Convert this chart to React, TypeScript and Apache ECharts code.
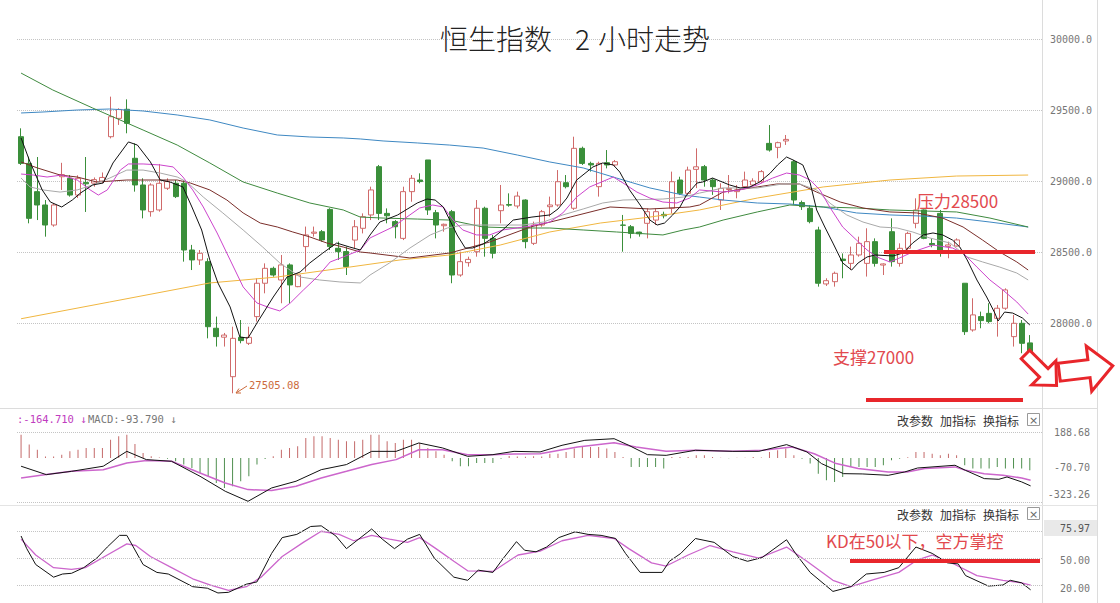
import React, { useEffect, useRef } from "react";
import * as echarts from "echarts";

// [open, close, low, high]
const candles: number[][] = [
  [29312, 29124, 29113, 29371], [29124, 28737, 28702, 29171], [28925, 28831, 28725, 29169], [28831, 28690, 28608, 28866],
  [28690, 28831, 28678, 28843], [29030, 29045, 28937, 29128], [29019, 28901, 28890, 29042], [28901, 29019, 28880, 29040],
  [28990, 28980, 28782, 29169], [28985, 29010, 28960, 29025], [29000, 29025, 28985, 29060], [29312, 29453, 29300, 29594],
  [29441, 29504, 29395, 29512], [29505, 29406, 29336, 29575], [29160, 28972, 28925, 29265], [28972, 28796, 28737, 29019],
  [28784, 28972, 28749, 28984], [28796, 28984, 28784, 29120], [28949, 28996, 28937, 29019], [28984, 28890, 28880, 29007],
  [28984, 28514, 28432, 29007], [28514, 28444, 28373, 28550], [28444, 28491, 28409, 28514], [28432, 27974, 27892, 28456],
  [27963, 27904, 27834, 28045], [27900, 27915, 27834, 27930], [27622, 27892, 27505.08, 27974], [27899, 27876, 27857, 28021],
  [27857, 27899, 27845, 27974], [28045, 28280, 28010, 28315], [28280, 28385, 28209, 28420], [28385, 28338, 28326, 28397],
  [28303, 28409, 28139, 28479], [28409, 28268, 28139, 28420], [28256, 28338, 28252, 28350], [28538, 28620, 28362, 28679],
  [28632, 28640, 28608, 28679], [28643, 28585, 28573, 28655], [28800, 28538, 28514, 28808], [28526, 28503, 28444, 28573],
  [28503, 28397, 28338, 28538], [28584, 28678, 28526, 28725], [28667, 28749, 28631, 28772], [28761, 28937, 28725, 28960],
  [29101, 28772, 28725, 29113], [28772, 28755, 28702, 28807], [28714, 28678, 28596, 28725], [28596, 28925, 28584, 28960],
  [28925, 29019, 28854, 29042], [29007, 28996, 28984, 29054], [29148, 28796, 28761, 29148], [28777, 28690, 28596, 28796],
  [28685, 28695, 28643, 28700], [28784, 28338, 28280, 28796], [28338, 28432, 28326, 28502], [28425, 28448, 28397, 28467],
  [28502, 28808, 28467, 28866], [28808, 28596, 28467, 28819], [28596, 28491, 28455, 28620], [28791, 28831, 28702, 28972],
  [28834, 28830, 28819, 28913], [28824, 28894, 28807, 28925], [28866, 28573, 28526, 28871], [28561, 28690, 28549, 28714],
  [28690, 28784, 28678, 28796], [28819, 28831, 28749, 28890], [28831, 28995, 28819, 29077], [28988, 28960, 28948, 29042],
  [28808, 29230, 28796, 29312], [29230, 29124, 29113, 29242], [29124, 29113, 29066, 29136], [28960, 29124, 28890, 29136],
  [29129, 29113, 29089, 29218], [29113, 29136, 29101, 29148], [28690, 28688, 28502, 28761], [28678, 28631, 28596, 28690],
  [28640, 28628, 28608, 28643], [28702, 28784, 28596, 28807], [28725, 28784, 28690, 28807], [28765, 28755, 28737, 28784],
  [28808, 28995, 28772, 29066], [29007, 28913, 28901, 29030], [28913, 29077, 28901, 29101], [29082, 29100, 28950, 29230],
  [29101, 29007, 28960, 29113], [29007, 28960, 28902, 29019], [28866, 28948, 28796, 28984], [28940, 28948, 28913, 29042],
  [28925, 28937, 28878, 28972], [28960, 29007, 28948, 29066], [28972, 29000, 28965, 29019], [28995, 29066, 28984, 29077],
  [29265, 29218, 29207, 29394], [29237, 29270, 29160, 29277], [29282, 29293, 29254, 29324], [29136, 28866, 28831, 29148],
  [28848, 28819, 28796, 28862], [28808, 28714, 28702, 28831], [28655, 28280, 28256, 28678], [28275, 28298, 28261, 28315],
  [28291, 28350, 28256, 28362], [28450, 28440, 28315, 28490], [28420, 28479, 28373, 28538], [28479, 28561, 28467, 28608],
  [28420, 28573, 28327, 28667], [28573, 28420, 28397, 28596], [28408, 28416, 28338, 28420], [28643, 28432, 28397, 28737],
  [28420, 28526, 28397, 28561], [28526, 28631, 28514, 28643], [28702, 28796, 28667, 28878], [28796, 28596, 28590, 28800],
  [28560, 28550, 28533, 28596], [28772, 28514, 28467, 28796], [28540, 28550, 28456, 28573], [28542, 28585, 28538, 28596],
  [28280, 27939, 27916, 28280], [27951, 28057, 27939, 28174], [28045, 28017, 27963, 28080], [28068, 28010, 27998, 28139],
  [28033, 28104, 27904, 28127], [28104, 28233, 28092, 28244], [27904, 27998, 27834, 28057], [27998, 27857, 27787, 28021],
  [27860, 27730, 27700, 27915],
];

// moving averages, [candle index, price]
const ma5 = [[0,29303],[1.1,29134],[2.6,28937],[3.6,28852],[5,28817],[6.3,28866],[7.3,28915],[8.8,28972],[10.1,28986],[11.3,29127],[13.2,29275],[14.3,29253],[15.9,29134],[17.1,29007],[18.3,28993],[19.9,28958],[21,28817],[22.2,28655],[23.2,28444],[24.2,28282],[25.7,28113],[26.9,27901],[27.9,27894],[29,28000],[31,28183],[32.7,28324],[34.3,28359],[35.5,28423],[37.1,28493],[38.8,28563],[40.4,28535],[41.7,28514],[42.9,28620],[44.1,28711],[46.3,28761],[48.7,28845],[49.9,28873],[50.9,28866],[51.9,28817],[52.7,28725],[53.6,28620],[54.6,28528],[55.5,28528],[56.8,28556],[58,28599],[59.2,28655],[60.5,28725],[62.8,28746],[65,28761],[66,28803],[67.1,28880],[68.3,29007],[70.3,29099],[71.5,29127],[72.8,29113],[73.6,29063],[74.8,28937],[76.1,28831],[77.3,28725],[78.2,28690],[79.1,28704],[80.1,28761],[81,28817],[81.8,28901],[83.1,28986],[83.8,28993],[85,29021],[87.1,28972],[88.4,28951],[89.6,28958],[90.8,28993],[92.1,29056],[93,29113],[94.1,29169],[94.9,29148],[96.1,29113],[97,28986],[97.8,28796],[98.8,28676],[99.8,28563],[101,28423],[102.1,28373],[102.9,28423],[104,28465],[105,28479],[107.2,28472],[108.4,28493],[109.6,28563],[110.9,28620],[112.1,28634],[113.3,28620],[114.5,28584],[115.4,28535],[116.3,28444],[117.5,28303],[118.7,28183],[119.7,28070],[120.1,28014],[120.9,28077],[121.9,28070],[123.1,28035],[124,27986]];
const ma10 = [[0,29049],[1.5,29042],[3.2,29028],[5,29042],[6.9,29007],[8.5,28937],[9.5,28901],[10.6,28937],[12.2,29077],[13.2,29120],[15,29120],[17.1,29113],[18.7,29099],[19.9,29028],[21.1,28937],[22.4,28817],[24.1,28634],[25.7,28444],[27.3,28254],[29,28141],[30.6,28106],[31.8,28085],[33.1,28141],[34.7,28232],[36.4,28324],[38,28430],[39.6,28465],[41.7,28514],[42.9,28599],[45.7,28676],[49,28810],[50.6,28831],[51.9,28817],[53.1,28725],[54.3,28655],[56,28620],[57.6,28620],[59.2,28655],[62.6,28683],[65,28711],[66.6,28775],[68.3,28887],[69.9,28958],[72.8,29028],[74,28986],[75.7,28922],[77.3,28880],[78.9,28852],[80.6,28845],[82.2,28880],[83.4,28937],[86.3,28922],[88.4,28937],[90.5,28972],[92.4,29021],[94.1,29056],[95.7,29042],[97,29007],[98.2,28937],[99.4,28817],[101,28676],[102.7,28584],[104,28514],[105.2,28465],[106.8,28430],[108,28458],[109.6,28500],[112.1,28549],[114.5,28528],[115.8,28493],[117.5,28394],[119.1,28303],[120.7,28232],[122.4,28148],[123.8,28063]];
const ma20 = [[0,29021],[1.1,28958],[2.7,28937],[4.8,28922],[6.9,28937],[8.8,28972],[10.9,29021],[13,29077],[15,29077],[17.1,29056],[19.2,29028],[20.4,28993],[22.4,28887],[24.8,28775],[27.3,28655],[29.7,28535],[31.8,28423],[34.3,28324],[36.7,28303],[39.2,28289],[41.7,28282],[42.9,28338],[45.3,28423],[47.8,28528],[50.3,28620],[52.4,28669],[54.3,28690],[58.9,28690],[61.7,28690],[64.2,28711],[66.6,28761],[69.1,28803],[71.5,28845],[74,28866],[78.9,28873],[81.4,28887],[83.4,28915],[86.3,28951],[90.5,28951],[93.6,28979],[95.7,28979],[97.8,28937],[99.4,28845],[101.5,28761],[103.5,28711],[105.6,28676],[107.7,28669],[109.6,28641],[111.7,28599],[114.2,28563],[116.3,28465],[118.2,28430],[120.3,28394],[122.4,28352],[123.8,28303]];
const ma30 = [[0,29134],[2,29092],[4.8,29042],[6.9,29028],[9.3,28993],[13,29007],[19.2,29007],[20.8,28986],[23.2,28937],[25.3,28866],[27.3,28775],[29.4,28704],[31.5,28676],[33.4,28641],[35.5,28606],[37.6,28563],[39.6,28535],[41.7,28500],[42.9,28493],[47.8,28458],[52.7,28493],[57.6,28570],[62.6,28676],[67.5,28746],[72.4,28817],[77.3,28803],[82.2,28817],[83.4,28831],[86.3,28922],[90.5,28958],[92.9,28979],[95.7,28979],[97.8,28922],[100.7,28852],[103.5,28810],[106.8,28782],[110.1,28775],[113.3,28739],[115.8,28676],[118.2,28584],[120.3,28500],[122.4,28430],[123.8,28373]];
const ma60 = [[0,29760],[3.9,29641],[8.8,29514],[15,29359],[19.2,29253],[23.2,29127],[27.3,28993],[31.5,28915],[35.5,28845],[39.6,28796],[41.7,28746],[44.5,28739],[48.7,28732],[52.7,28725],[56.8,28676],[61,28669],[65,28669],[69.1,28655],[73.2,28641],[78.9,28620],[81.4,28655],[83.4,28676],[86.3,28725],[90.5,28782],[94.5,28831],[98.6,28817],[102.7,28810],[106.8,28796],[110.9,28789],[115,28782],[119.1,28739],[123.8,28676]];
const ma120 = [[0,29479],[2.7,29486],[6.9,29500],[10.9,29507],[15,29493],[19.2,29465],[23.2,29430],[27.3,29373],[31.5,29324],[35.5,29310],[39.6,29303],[41.7,29296],[44.5,29282],[48.7,29268],[52.7,29253],[56.8,29232],[61,29183],[65,29134],[69.1,29092],[73.2,29021],[77.3,28951],[81.4,28901],[83.4,28887],[86.3,28866],[90.5,28845],[94.5,28838],[98.6,28817],[102.7,28775],[106.8,28761],[110.9,28753],[115,28739],[119.1,28711],[123.8,28676]];
const ma250 = [[0,28030],[10.9,28148],[23.2,28282],[31.5,28324],[40.4,28394],[46.6,28444],[52.7,28479],[58.9,28549],[65,28641],[71.2,28704],[77.3,28746],[83.4,28796],[90.5,28880],[98.6,28958],[106.8,29007],[115,29035],[123.8,29042]];

// MACD histogram, one per candle
const macdHist = [169,97,60,10,10,24,48,60,73,73,73,133,157,169,102,36,12,4,-5,-24,-48,-73,-109,-133,-182,-218,-206,-169,-133,-48,-7,12,60,73,85,145,157,157,145,133,121,121,133,169,169,121,109,133,133,109,73,48,24,-24,-60,-60,-36,-36,-36,-6,15,10,8,12,10,31,31,44,68,80,80,80,68,44,7,-65,-65,-65,-65,-77,7,7,7,19,19,7,2,-2,2,2,7,4,44,56,68,19,-5,-41,-114,-162,-174,-138,-65,-65,-65,-65,-53,-17,-5,5,44,44,31,19,31,19,-53,-77,-77,-77,-65,-77,-77,-77,-90];
const dif = [[0,-60],[3.1,-121],[6.2,-97],[10.1,-60],[13,48],[15.4,-12],[18.5,-24],[22,-133],[25.1,-242],[27.9,-315],[30.8,-218],[33.8,-169],[36.9,-85],[40,-48],[43.1,48],[46.1,48],[48.9,109],[51.8,73],[54.9,12],[58,24],[60.6,48],[63.8,44],[66.5,92],[69.3,128],[72.9,140],[74.7,92],[77,24],[79.3,19],[82.9,56],[87.5,48],[90.7,48],[94.1,97],[96.6,44],[98.4,-41],[101.1,-114],[103.4,-116],[106.6,-126],[108.6,-102],[110.2,-73],[114.8,-53],[116.1,-90],[118.4,-150],[120.2,-155],[121.2,-138],[123,-174],[124.1,-203]];
const dea = [[0,-145],[3.1,-121],[6.2,-97],[10.1,-85],[13,-36],[15.4,-19],[18.5,-24],[22,-109],[25.1,-182],[27.9,-230],[30.8,-237],[33.8,-206],[36.9,-145],[40,-97],[43.1,-48],[46.1,-12],[48.9,60],[51.8,60],[54.9,24],[58,24],[60.6,29],[63.8,31],[68.4,80],[72.9,111],[75.6,80],[79.3,48],[82.9,56],[87.5,48],[91.1,56],[94.8,80],[97.5,31],[100.2,-41],[102.9,-77],[106.6,-102],[108.9,-102],[111.1,-77],[114.8,-65],[116.1,-90],[118.4,-114],[120.7,-126],[123,-145],[124.1,-162]];
const macdTicks = ["188.68", "-70.70", "-323.26"];

// KD
const kLine = [[0,74.7],[0.7,60.6],[1.8,42.9],[4,28.8],[5.1,32.3],[6.2,33.1],[7.7,39.4],[9.3,50],[10.6,62.4],[12.1,75.4],[13,75.4],[15,42.9],[16.7,34.1],[18.1,32.3],[21.1,18.2],[22.9,16.5],[24.2,11.2],[25.5,11.9],[27.7,21],[29,23.5],[30.8,55.3],[32.1,72.9],[33.9,76.5],[35.6,85.3],[36.9,86],[38.7,74.7],[40,60.6],[41.5,71.2],[43.1,82.5],[44.4,71.2],[45.9,60.6],[47.5,71.2],[49,76.5],[50.8,50],[53.2,28.8],[54.9,25.3],[56.2,36.6],[58,34.1],[59.3,50],[60.9,68.4],[61.9,58.8],[63.3,57.1],[64.6,62.4],[66.1,72.9],[68.1,79.3],[69.7,76.5],[71.3,75.4],[73.1,71.9],[74.3,55.3],[76.1,34.1],[78.8,34.1],[79.7,46.5],[81.1,55.3],[82.9,71.9],[85.2,67.6],[87.5,51.8],[89.3,46.5],[91.1,50.7],[94.1,70.5],[95.2,55.3],[97,34.1],[99.8,12.9],[102,18.2],[103.9,32.3],[106.1,34.1],[107.9,39.4],[110,62.4],[112,55.3],[113.9,44.7],[115.2,43.6],[116.1,30.6],[118.9,18.9],[120.7,20],[121.6,25.3],[123,22.5],[124.1,14.7]];
const dLine = [[0,71.2],[1.8,53.5],[4,39.4],[6.2,37.6],[7.9,39.4],[10.6,53.5],[13,65.9],[14.1,64.1],[15.9,51.8],[18.5,39.4],[21.1,27],[23.3,20],[25.5,14],[27.7,18.2],[29.5,28.8],[32.1,51.8],[34.7,67.6],[36.9,80],[39.1,76.5],[40.9,69.4],[43.1,75.4],[45.3,71.2],[47.5,67.6],[49,72.9],[51,60.6],[53.2,46.5],[54.9,35.9],[58,35.2],[61.1,53.5],[63.8,57.8],[66.5,69.4],[69.7,75.4],[72.9,71.9],[74.7,60.6],[77.5,44.7],[79.3,41.2],[82,53.5],[84.7,64.1],[87.5,57.1],[90.7,50],[94.1,62.4],[96.6,46.5],[99.8,25.3],[102,18.2],[104.8,26],[107.9,34.1],[110.2,48.2],[112,53.5],[114.8,42.9],[117.5,30.6],[120.7,25.3],[123,22.5],[124.1,20]];
const kdTicks = ["75.97", "50.00", "20.00"];
const kdLevels = [80, 50, 20];

const categories = candles.map((_, i) => String(i)).concat([""]);
const N = categories.length;

const RED = "#e8262b";
const RED_TEXT = "#e2494e";
const MONO = "DejaVu Sans Mono";
const CJK = "Noto Sans CJK SC";

const txt = (x: number, y: number, text: string, fill: string, fontSize: number, fontFamily: string, align = "left", extra: any = {}) => ({
  type: "text", x, y, z: 100,
  style: { text, fill, fontSize, fontFamily, textAlign: align, textVerticalAlign: "middle", ...extra },
});
const hline = (x1: number, x2: number, y: number, stroke: string, lineWidth = 1) => ({
  type: "line", z: 90, shape: { x1, y1: y, x2, y2: y }, style: { stroke, lineWidth },
});
const vline = (x: number, y1: number, y2: number, stroke: string) => ({
  type: "line", z: 90, shape: { x1: x, y1, x2: x, y2 }, style: { stroke, lineWidth: 1 },
});
const toolbar = (y: number) => [
  txt(897, y, "改参数", "#333", 12, CJK),
  txt(940, y, "加指标", "#333", 12, CJK),
  txt(983, y, "换指标", "#333", 12, CJK),
  { type: "rect", z: 100, shape: { x: 1027.5, y: y - 6.5, width: 12, height: 12 }, style: { fill: "#fff", stroke: "#999", lineWidth: 1 } },
  txt(1033.5, y, "×", "#666", 11, "DejaVu Sans", "center"),
];
const arrow = (cx: number, cy: number, len: number, head: number, shaft: number, rot: number) => ({
  type: "polygon", x: cx, y: cy, rotation: rot, z: 110,
  shape: { points: [[-len / 2, -shaft], [len / 2 - head, -shaft], [len / 2 - head, -head * 0.95], [len / 2, 0], [len / 2 - head, head * 0.95], [len / 2 - head, shaft], [-len / 2, shaft]] },
  style: { fill: "#fff", stroke: RED, lineWidth: 3, lineJoin: "miter" },
});

const lineSeries = (data: number[][], color: string, xAxisIndex: number, yAxisIndex: number, width = 1, extra: any = {}) => ({
  type: "line", data, xAxisIndex, yAxisIndex, showSymbol: false, symbol: "none", silent: true, z: 3,
  lineStyle: { color, width }, itemStyle: { color }, ...extra,
});

export default function App() {
  const ref = useRef<HTMLDivElement>(null);
  useEffect(() => {
    const chart = echarts.init(ref.current!, null, { renderer: "svg" });
    const gl = 17, gw = 1025;
    const dotted = { type: "dotted", color: "#c4c4c4", width: 1 };
    chart.setOption({
      animation: false,
      backgroundColor: "#fff",
      grid: [
        { left: gl, width: gw, top: 3.5, height: 390.5 },
        { left: gl, width: gw, top: 432, height: 70 },
        { left: gl, width: gw, top: 513.3, height: 93.3 },
      ],
      xAxis: [
        { type: "category", gridIndex: 0, data: categories, show: false, boundaryGap: true },
        { type: "value", gridIndex: 0, min: -0.5, max: N - 0.5, show: false },
        { type: "category", gridIndex: 1, data: categories, show: false, boundaryGap: true },
        { type: "value", gridIndex: 1, min: -0.5, max: N - 0.5, show: false },
        { type: "value", gridIndex: 2, min: -0.5, max: N - 0.5, show: false },
      ],
      yAxis: [
        {
          type: "value", gridIndex: 0, position: "right", min: 27500, max: 30250, interval: 500,
          axisLine: { show: false }, axisTick: { show: false },
          axisLabel: { formatter: (v: number) => v.toFixed(1), showMinLabel: false, showMaxLabel: false, color: "#777", fontSize: 10, fontFamily: MONO, margin: 8 },
          splitLine: { show: true, showMinLine: false, showMaxLine: false, lineStyle: dotted },
        },
        { type: "value", gridIndex: 1, min: -320, max: 188.68, show: false },
        { type: "value", gridIndex: 2, min: 0, max: 100, show: false },
      ],
      series: [
        {
          type: "candlestick", xAxisIndex: 0, yAxisIndex: 0, data: candles, barWidth: 5.5, silent: true, z: 2,
          itemStyle: { color: "#ffffff", color0: "#3a8f3a", borderColor: "#d06a6a", borderColor0: "#3a8f3a", borderWidth: 1 },
        },
        lineSeries(ma250, "#f0b640", 1, 0),
        lineSeries(ma120, "#3f88c2", 1, 0),
        lineSeries(ma60, "#3f8a3f", 1, 0),
        lineSeries(ma30, "#7a2e2a", 1, 0),
        lineSeries(ma20, "#a9a9a9", 1, 0),
        lineSeries(ma10, "#cc44cc", 1, 0),
        lineSeries(ma5, "#111111", 1, 0),
        {
          type: "bar", xAxisIndex: 2, yAxisIndex: 1, data: macdHist, barWidth: 1, silent: true,
          itemStyle: { color: (p: any) => (p.value >= 0 ? "#c46a6a" : "#4f8f4f") },
          markLine: { silent: true, symbol: ["none", "none"], label: { show: false }, lineStyle: dotted, data: [{ yAxis: 188.68 }, { yAxis: -320 }] },
        },
        lineSeries(dea, "#cc66cc", 3, 1, 1.5),
        lineSeries(dif, "#111111", 3, 1, 1),
        lineSeries(dLine, "#cc66cc", 4, 2, 1.3, {
          markLine: { silent: true, symbol: ["none", "none"], label: { show: false }, lineStyle: dotted, data: kdLevels.map((v) => ({ yAxis: v })) },
        }),
        lineSeries(kLine, "#111111", 4, 2, 1),
      ],
      graphic: {
        elements: [
          vline(1042.5, 0, 603, "#dcdcdc"),
          vline(1097.5, 0, 603, "#dcdcdc"),
          hline(0, 1097, 408.5, "#dcdcdc"),
          hline(0, 1097, 505.5, "#e4e4e4"),
          txt(440, 38, "恒生指数", "#222", 28, CJK, "left", { fontWeight: 300 }),
          txt(575, 38, "2", "#222", 28, CJK, "left", { fontWeight: 300 }),
          txt(598, 38, "小时走势", "#222", 28, CJK, "left", { fontWeight: 300 }),
          // MACD header
          txt(17, 419, ":-164.710 ↓", "#c03cc0", 10.5, MONO),
          txt(88, 419, "MACD:-93.790 ↓", "#777", 10.5, MONO),
          ...toolbar(420),
          ...toolbar(514),
          txt(1090, 432, macdTicks[0], "#777", 10, MONO, "right"),
          txt(1090, 467, macdTicks[1], "#777", 10, MONO, "right"),
          txt(1090, 494, macdTicks[2], "#777", 10, MONO, "right"),
          { type: "rect", z: 95, shape: { x: 1044, y: 520, width: 53, height: 16 }, style: { fill: "#e9e9e9" } },
          txt(1090, 528, kdTicks[0], "#555", 10, MONO, "right"),
          txt(1090, 560, kdTicks[1], "#777", 10, MONO, "right"),
          txt(1090, 588, kdTicks[2], "#777", 10, MONO, "right"),
          // low annotation
          { type: "line", z: 100, shape: { x1: 247, y1: 386, x2: 236, y2: 393 }, style: { stroke: "#cc6a3c", lineWidth: 1 } },
          { type: "polyline", z: 100, shape: { points: [[239, 388.5], [236, 393], [241, 393]] }, style: { stroke: "#cc6a3c", lineWidth: 1, fill: "none" } },
          txt(249, 385, "27505.08", "#cc6a3c", 10.5, MONO),
          // red annotations
          txt(917, 200, "压力28500", RED_TEXT, 17, CJK),
          hline(884, 1035, 252, RED, 4),
          txt(833, 356, "支撑27000", RED_TEXT, 17, CJK),
          hline(866, 1023, 400, RED, 4),
          txt(826, 540, "KD在50以下，空方掌控", RED_TEXT, 17, CJK),
          hline(850, 1040, 561, RED, 4),
          arrow(1041, 370, 44, 18, 6, -Math.PI / 4),
          arrow(1086, 369, 54, 24, 9, 0.12),
        ],
      },
    });
    return () => chart.dispose();
  }, []);
  return <div ref={ref} style={{ position: "fixed", left: 0, top: 0, width: 1120, height: 603, background: "#fff" }} />;
}
